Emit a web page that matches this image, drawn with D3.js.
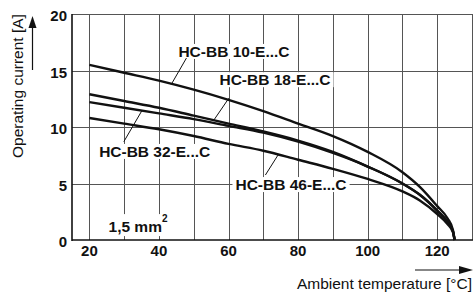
<!DOCTYPE html>
<html>
<head>
<meta charset="utf-8">
<script src="https://cdn.jsdelivr.net/npm/d3@7"></script>
<style>
  body { margin: 0; background: #fff; }
  text { font-family: "Liberation Sans", Arial, sans-serif; fill: #111; }
</style>
</head>
<body>
<div id="chart"></div>
<script>
// data
var temps = [20, 30, 40, 50, 60, 70, 80, 90, 100, 110, 115, 120, 123, 124.5, 125];
var bb10 = [15.5, 14.8, 14.1, 13.3, 12.4, 11.4, 10.3, 9.2, 7.8, 6.0, 4.7, 3.0, 1.9, 0.9, 0];
var bb18 = [12.9, 12.3, 11.7, 11.0, 10.3, 9.6, 8.8, 7.8, 6.5, 5.0, 4.0, 2.6, 1.6, 0.8, 0];
var bb32 = [12.2, 11.7, 11.2, 10.7, 10.1, 9.5, 8.7, 7.7, 6.5, 5.0, 4.0, 2.6, 1.6, 0.8, 0];
var bb46 = [10.8, 10.3, 9.8, 9.2, 8.5, 7.9, 7.1, 6.3, 5.4, 4.3, 3.5, 2.3, 1.4, 0.7, 0];
var seriesNames = ['HC-BB 10-E...C', 'HC-BB 18-E...C', 'HC-BB 32-E...C', 'HC-BB 46-E...C'];
var xTicks = [20, 40, 60, 80, 100, 120];
var yTicks = [0, 5, 10, 15, 20];
var xGrid = [20, 30, 40, 50, 60, 70, 80, 90, 100, 110, 120, 130];
var yGrid = [5, 10, 15, 20];

var svgWidth = 474;
var svgHeight = 294;

var svg = d3.select('#chart')
    .append('svg')
    .attr('width', svgWidth)
    .attr('height', svgHeight);

var x = d3.scaleLinear().domain([15, 130]).range([72, 472]);
var y = d3.scaleLinear().domain([0, 20]).range([240, 14]);

// grid
svg.append('g').selectAll('line')
    .data(xGrid)
    .enter()
    .append('line')
    .attr('x1', d => Math.round(x(d)) + 0.5)
    .attr('x2', d => Math.round(x(d)) + 0.5)
    .attr('y1', y(20))
    .attr('y2', y(0))
    .attr('stroke', '#555')
    .attr('stroke-width', 1);

svg.append('g').selectAll('line')
    .data(yGrid)
    .enter()
    .append('line')
    .attr('x1', x(15))
    .attr('x2', x(130) + 1)
    .attr('y1', d => Math.round(y(d)) + 0.5)
    .attr('y2', d => Math.round(y(d)) + 0.5)
    .attr('stroke', '#555')
    .attr('stroke-width', 1);

// axes lines (left and bottom)
svg.append('line')
    .attr('x1', x(15)).attr('x2', x(15))
    .attr('y1', y(20)).attr('y2', y(0) + 1)
    .attr('stroke', '#111').attr('stroke-width', 1.6);
svg.append('line')
    .attr('x1', x(15)).attr('x2', x(130) + 1)
    .attr('y1', y(0)).attr('y2', y(0))
    .attr('stroke', '#111').attr('stroke-width', 1.6);

// tick labels
svg.append('g').selectAll('text')
    .data(yTicks)
    .enter()
    .append('text')
    .attr('x', 67)
    .attr('y', d => y(d) + 1.5)
    .attr('text-anchor', 'end')
    .attr('dominant-baseline', 'central')
    .attr('font-size', '15px')
    .attr('font-weight', 'bold')
    .text(d => d);

svg.append('g').selectAll('text')
    .data(xTicks)
    .enter()
    .append('text')
    .attr('x', d => x(d))
    .attr('y', 256)
    .attr('text-anchor', 'middle')
    .attr('font-size', '15px')
    .attr('font-weight', 'bold')
    .text(d => d);

// label boxes go under the curves but over the grid
var labelLayer = svg.append('g');

// curves
var line = d3.line()
    .x(d => x(d[0]))
    .y(d => y(d[1]))
    .curve(d3.curveMonotoneX);

[bb10, bb18, bb32, bb46].forEach(function(vals) {
    svg.append('path')
        .datum(temps.map((t, i) => [t, vals[i]]))
        .attr('d', line)
        .attr('fill', 'none')
        .attr('stroke', '#111')
        .attr('stroke-width', 2.4);
});

// curve labels: text start (T, I) and leader from (T, I) to (T, I)
var labels = [
    {text: seriesNames[0], at: [45.6, 16.2], from: [47.9, 16.1], to: [43.5, 13.75]},
    {text: seriesNames[1], at: [57.4, 13.7], from: [60.1, 12.55], to: [55.8, 10.62]},
    {text: seriesNames[2], at: [22.8, 7.35], from: [29.9, 8.7], to: [35.2, 11.5]},
    {text: seriesNames[3], at: [62.0, 4.42], from: [70.6, 5.75], to: [74.4, 7.6]}
];

labels.forEach(function(l) {
    var t = svg.append('text')
        .attr('x', x(l.at[0]))
        .attr('y', y(l.at[1]))
        .attr('font-size', '15.5px')
        .attr('font-weight', 'bold')
        .text(l.text);
    var b = t.node().getBBox();
    labelLayer.append('rect')
        .attr('x', b.x - 3)
        .attr('y', b.y + 1)
        .attr('width', b.width + 6)
        .attr('height', b.height - 2)
        .attr('fill', '#fff');
    svg.append('line')
        .attr('x1', x(l.from[0])).attr('y1', y(l.from[1]))
        .attr('x2', x(l.to[0])).attr('y2', y(l.to[1]))
        .attr('stroke', '#111')
        .attr('stroke-width', 1);
});

// cross-section note
var note = svg.append('text')
    .attr('x', x(25.5))
    .attr('y', y(0.7))
    .attr('font-size', '15.5px')
    .attr('font-weight', 'bold');
note.append('tspan').text('1,5 mm');
note.append('tspan')
    .attr('dy', -10)
    .attr('font-size', '10px')
    .text('2');
var nb = note.node().getBBox();
labelLayer.append('rect')
    .attr('x', nb.x - 3)
    .attr('y', nb.y + 1)
    .attr('width', nb.width + 6)
    .attr('height', nb.height)
    .attr('fill', '#fff');

// axis titles with arrows
svg.append('text')
    .attr('transform', 'translate(23,158) rotate(-90)')
    .attr('font-size', '15.5px')
    .text('Operating current [A]');
svg.append('line')
    .attr('x1', 32.5).attr('x2', 32.5)
    .attr('y1', 70).attr('y2', 26)
    .attr('stroke', '#111').attr('stroke-width', 1.2);
svg.append('path')
    .attr('d', 'M32.5,16 L28.5,28 L36.5,28 Z')
    .attr('fill', '#111');

svg.append('text')
    .attr('x', 472)
    .attr('y', 289)
    .attr('text-anchor', 'end')
    .attr('font-size', '15.5px')
    .text('Ambient temperature [°C]');
svg.append('line')
    .attr('x1', 415).attr('x2', 462)
    .attr('y1', 270).attr('y2', 270)
    .attr('stroke', '#111').attr('stroke-width', 1.2);
svg.append('path')
    .attr('d', 'M473,270 L459,266 L459,274 Z')
    .attr('fill', '#111');
</script>
</body>
</html>
